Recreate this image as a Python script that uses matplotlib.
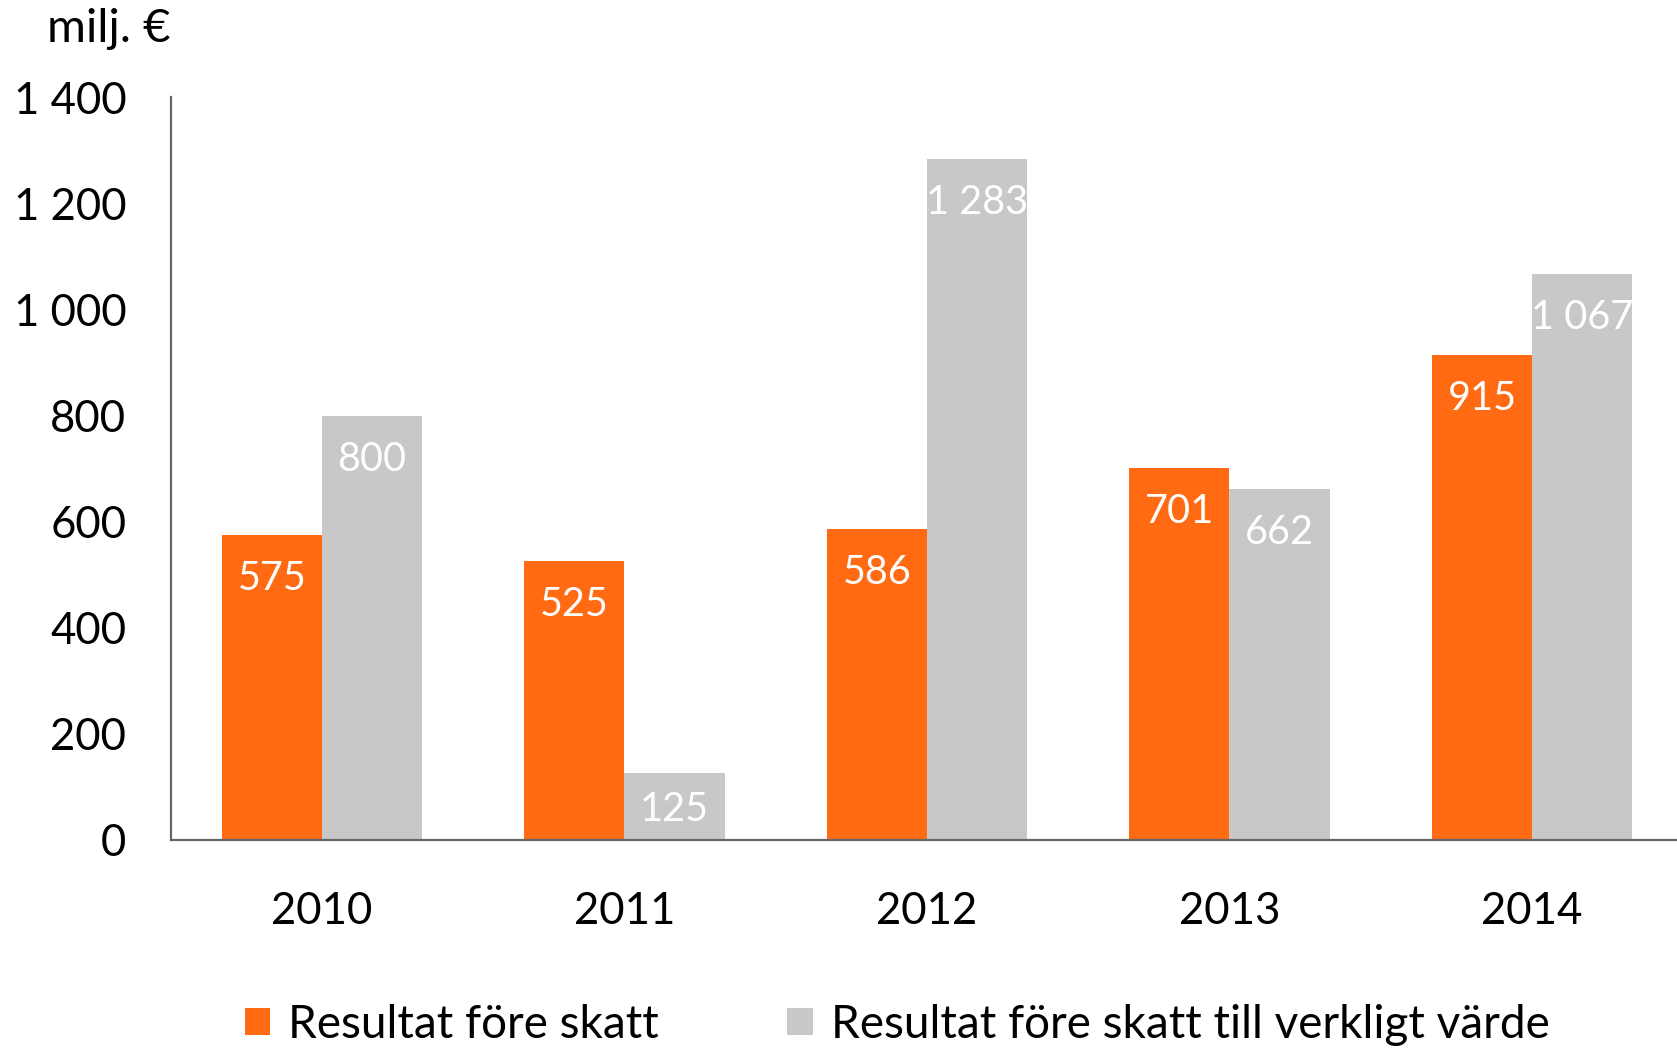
import matplotlib.pyplot as plt
import numpy as np

plt.rcParams['font.family'] = ['Lato', 'DejaVu Sans']

# data
years = ['2010', '2011', '2012', '2013', '2014']
result = [575, 525, 586, 701, 915]
result_fair = [800, 125, 1283, 662, 1067]
names = ['Resultat före skatt', 'Resultat före skatt till verkligt värde']

orange = '#FF6A13'
grey = '#C8C8C8'

def fmt(v):
    return '{:,}'.format(v).replace(',', ' ')

fig = plt.figure(figsize=(16.77, 10.49), dpi=100)
ax = fig.add_axes([0.1018, 0.1995, 0.9019, 0.7077])

x = np.arange(len(years))
w = 0.331
b1 = ax.bar(x - w / 2, result, w, color=orange, label=names[0])
b2 = ax.bar(x + w / 2, result_fair, w, color=grey, label=names[1])

ax.set_xlim(-0.5, 4.5)
ax.set_ylim(0, 1400)

# px per unit on y, for label placement inside the bars
px_per = 0.7077 * 1049 / 1400
for bars in (b1, b2):
    for r in bars:
        v = int(r.get_height())
        off = min(55, v * px_per / 2 + 14)  # short bars: centred like excel
        ax.annotate(fmt(v), (r.get_x() + r.get_width() / 2, v),
                    xytext=(0, -off), textcoords='offset pixels',
                    ha='center', va='baseline', color='white', fontsize=28.5,
                    clip_on=False)

ax.set_yticks(range(0, 1401, 200))
ax.set_yticklabels([fmt(v) for v in range(0, 1401, 200)])
ax.set_xticks(x)
ax.set_xticklabels(years)
ax.tick_params(axis='y', length=0, pad=32, labelsize=31.5)
ax.tick_params(axis='x', length=0, pad=37, labelsize=31.5)

for s in ['top', 'right']:
    ax.spines[s].set_visible(False)
for s in ['left', 'bottom']:
    ax.spines[s].set_color('#666666')
    ax.spines[s].set_linewidth(1.6)

fig.text(47 / 1677, 1 - 41.7 / 1049, 'milj. €', fontsize=34, ha='left', va='baseline')

fig.legend(handles=[b1, b2], loc='center', bbox_to_anchor=(0.535, 0.023),
           ncol=2, frameon=False, fontsize=33, handlelength=0.55, handleheight=0.55,
           handletextpad=0.4, columnspacing=2.8)

fig.savefig('out.png', dpi=100)
